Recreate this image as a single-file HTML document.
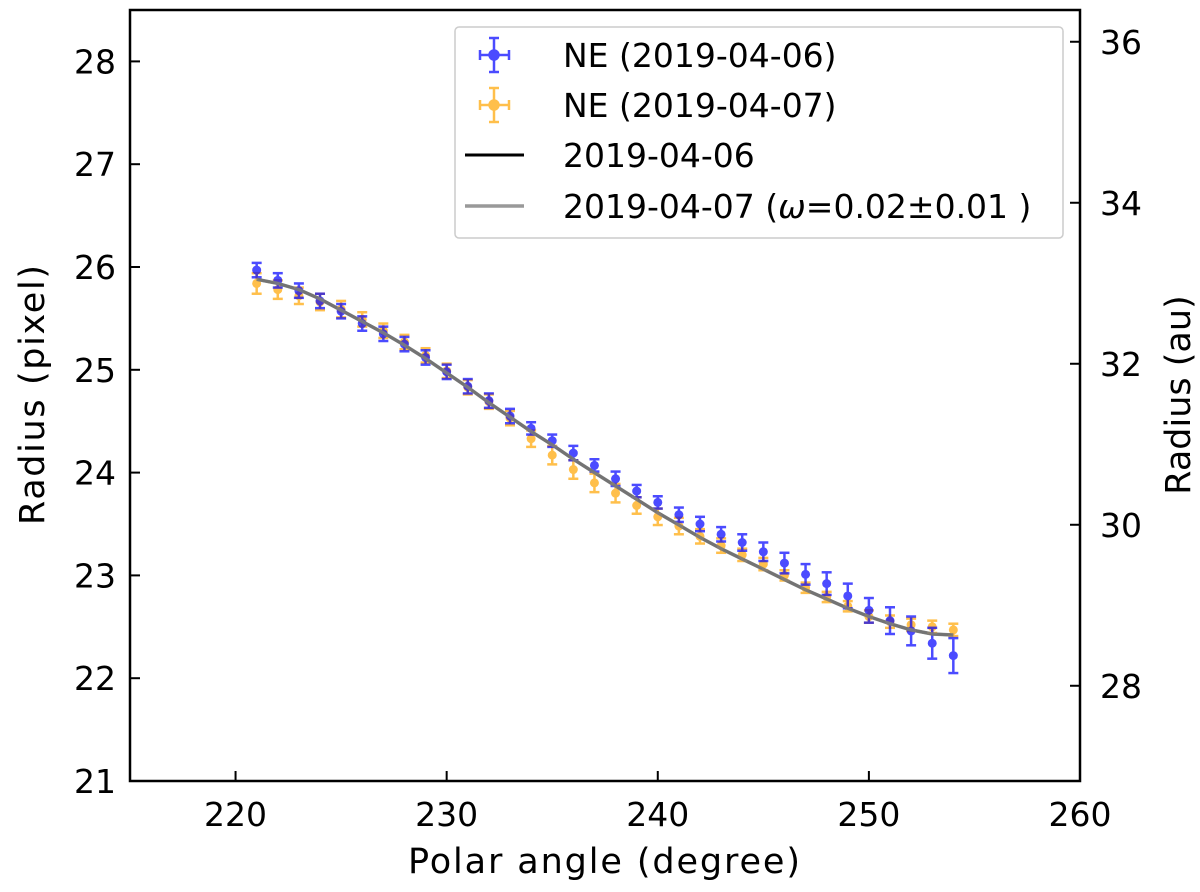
<!DOCTYPE html>
<html><head><meta charset="utf-8"><style>
body{margin:0;background:#fff}
svg text{font-family:"DejaVu Sans","Liberation Sans",sans-serif;fill:#000}
</style></head><body>
<svg id="chart" width="1200" height="887" xmlns="http://www.w3.org/2000/svg">
<g id="plot"></g>
</svg>
<script>
const angles=[221,222,223,224,225,226,227,228,229,230,231,232,233,234,235,236,237,238,239,240,241,242,243,244,245,246,247,248,249,250,251,252,253,254];
const blueVals=[25.97,25.87,25.77,25.67,25.57,25.45,25.35,25.25,25.12,24.98,24.84,24.70,24.55,24.43,24.31,24.19,24.07,23.94,23.82,23.71,23.59,23.50,23.40,23.32,23.23,23.12,23.01,22.92,22.80,22.66,22.56,22.46,22.34,22.22];
const blueErr=[0.07,0.07,0.07,0.07,0.07,0.07,0.07,0.07,0.07,0.07,0.07,0.07,0.07,0.06,0.06,0.07,0.06,0.07,0.06,0.06,0.07,0.07,0.07,0.08,0.09,0.10,0.10,0.11,0.12,0.12,0.13,0.14,0.15,0.17];
const orangeVals=[25.84,25.78,25.72,25.66,25.59,25.49,25.38,25.27,25.14,24.99,24.83,24.69,24.53,24.33,24.17,24.03,23.90,23.80,23.68,23.57,23.48,23.38,23.29,23.20,23.11,23.00,22.88,22.79,22.70,22.60,22.55,22.52,22.50,22.47];
const orangeErr=[0.10,0.09,0.08,0.08,0.08,0.07,0.07,0.07,0.07,0.07,0.07,0.07,0.07,0.08,0.09,0.09,0.09,0.09,0.08,0.08,0.08,0.07,0.07,0.06,0.06,0.05,0.05,0.05,0.05,0.06,0.06,0.06,0.06,0.06];
const fitVals=[25.88,25.84,25.78,25.69,25.58,25.47,25.36,25.24,25.11,24.97,24.83,24.68,24.54,24.40,24.27,24.13,24.00,23.87,23.74,23.61,23.49,23.37,23.26,23.16,23.06,22.96,22.86,22.77,22.68,22.60,22.53,22.47,22.43,22.42];
const xTicks=[220,230,240,250,260];
const yTicks=[21,22,23,24,25,26,27,28];
const y2Ticks=[28,30,32,34,36];
const AU=1.277;
const L=130,R=1080,T=10,B=781,XMIN=215,XMAX=260,YMIN=21,YMAX=28.5;
const sx=v=>L+(v-XMIN)/(XMAX-XMIN)*(R-L);
const sy=v=>B-(v-YMIN)/(YMAX-YMIN)*(B-T);
const sy2=v=>sy(v/AU);
const NS="http://www.w3.org/2000/svg";
const svg=document.getElementById('chart');
function mk(tag,attrs,parent){const e=document.createElementNS(NS,tag);for(const k in attrs)e.setAttribute(k,attrs[k]);(parent||svg).appendChild(e);return e;}
function linePath(vals){return vals.map((v,i)=>(i?'L':'M')+sx(angles[i]).toFixed(1)+','+sy(v).toFixed(1)).join('');}
let l1=mk('path',{d:linePath(fitVals),stroke:'#000',fill:'none','stroke-width':3});


function series(vals,errs,color,name){
  const g=mk('g',{opacity:0.7});
  
  
  vals.forEach((v,i)=>{
    const x=sx(angles[i]),y=sy(v),y1=sy(v+errs[i]),y2=sy(v-errs[i]);
    mk('line',{x1:x,x2:x,y1:y1,y2:y2,stroke:color,'stroke-width':2.5},g);
    mk('line',{x1:x-5,x2:x+5,y1:y1,y2:y1,stroke:color,'stroke-width':2.5},g);
    mk('line',{x1:x-5,x2:x+5,y1:y2,y2:y2,stroke:color,'stroke-width':2.5},g);
    const c=mk('circle',{cx:x,cy:y,r:4.5,fill:color},g);
    
    
  });
}
series(orangeVals,orangeErr,'#ffa500','series-ne-2019-04-07');
series(blueVals,blueErr,'#0000ff','series-ne-2019-04-06');
let l2=mk('path',{d:linePath(fitVals),stroke:'#808080',fill:'none','stroke-width':3.5,opacity:0.9});


let fr=mk('rect',{x:L,y:T,width:R-L,height:B-T,fill:'none',stroke:'#000','stroke-width':2.5});


xTicks.forEach(t=>{const x=sx(t);mk('line',{x1:x,x2:x,y1:B,y2:B-10,stroke:'#000','stroke-width':2});
 const tx=mk('text',{x:x,y:B+45,'font-size':33,'text-anchor':'middle'});tx.textContent=t;
 
 });
yTicks.forEach(t=>{const y=sy(t);mk('line',{x1:L,x2:L+10,y1:y,y2:y,stroke:'#000','stroke-width':2});
 const tx=mk('text',{x:L-14,y:y+12,'font-size':33,'text-anchor':'end'});tx.textContent=t;
 
 });
y2Ticks.forEach(t=>{const y=sy2(t);mk('line',{x1:R-10,x2:R,y1:y,y2:y,stroke:'#000','stroke-width':2});
 const tx=mk('text',{x:R+20,y:y+12,'font-size':33,'text-anchor':'start'});tx.textContent=t;
 
 });
</script>
<svg width="1200" height="887" style="position:absolute;left:0;top:0" xmlns="http://www.w3.org/2000/svg">
<text x="604" y="873" font-size="35" text-anchor="middle" textLength="392">Polar angle (degree)</text>
<text transform="translate(44,395) rotate(-90)" font-size="35" text-anchor="middle" textLength="260">Radius (pixel)</text>
<text transform="translate(1190,395) rotate(-90)" font-size="35" text-anchor="middle">Radius (au)</text>
<g>
<rect x="455" y="27" width="608" height="211" rx="4" fill="#fff" fill-opacity="0.85" stroke="#ccc" stroke-width="1.5"/>
<g opacity="0.7" stroke="#0000ff" stroke-width="2.5"><line x1="480" x2="509" y1="55" y2="55"/><line x1="494" x2="494" y1="38" y2="72"/><line x1="480" x2="480" y1="50" y2="60"/><line x1="509" x2="509" y1="50" y2="60"/><line x1="489" x2="499" y1="38" y2="38"/><line x1="489" x2="499" y1="72" y2="72"/><circle cx="494" cy="55" r="4.5" fill="#0000ff"/></g>
<text x="563" y="67" font-size="33">NE (2019-04-06)</text>
<g opacity="0.7" stroke="#ffa500" stroke-width="2.5"><line x1="480" x2="509" y1="105" y2="105"/><line x1="494" x2="494" y1="88" y2="122"/><line x1="480" x2="480" y1="100" y2="110"/><line x1="509" x2="509" y1="100" y2="110"/><line x1="489" x2="499" y1="88" y2="88"/><line x1="489" x2="499" y1="122" y2="122"/><circle cx="494" cy="105" r="4.5" fill="#ffa500"/></g>
<text x="563" y="117" font-size="33">NE (2019-04-07)</text>
<line x1="465" x2="524" y1="155" y2="155" stroke="#000" stroke-width="3"/>
<text x="563" y="167" font-size="33">2019-04-06</text>
<line x1="465" x2="524" y1="206" y2="206" stroke="#999" stroke-width="3.5"/>
<text x="563" y="218" font-size="33">2019-04-07 (<tspan font-style="italic">ω</tspan>=0.02±0.01 )</text>
</g>
</svg>
</body></html>
